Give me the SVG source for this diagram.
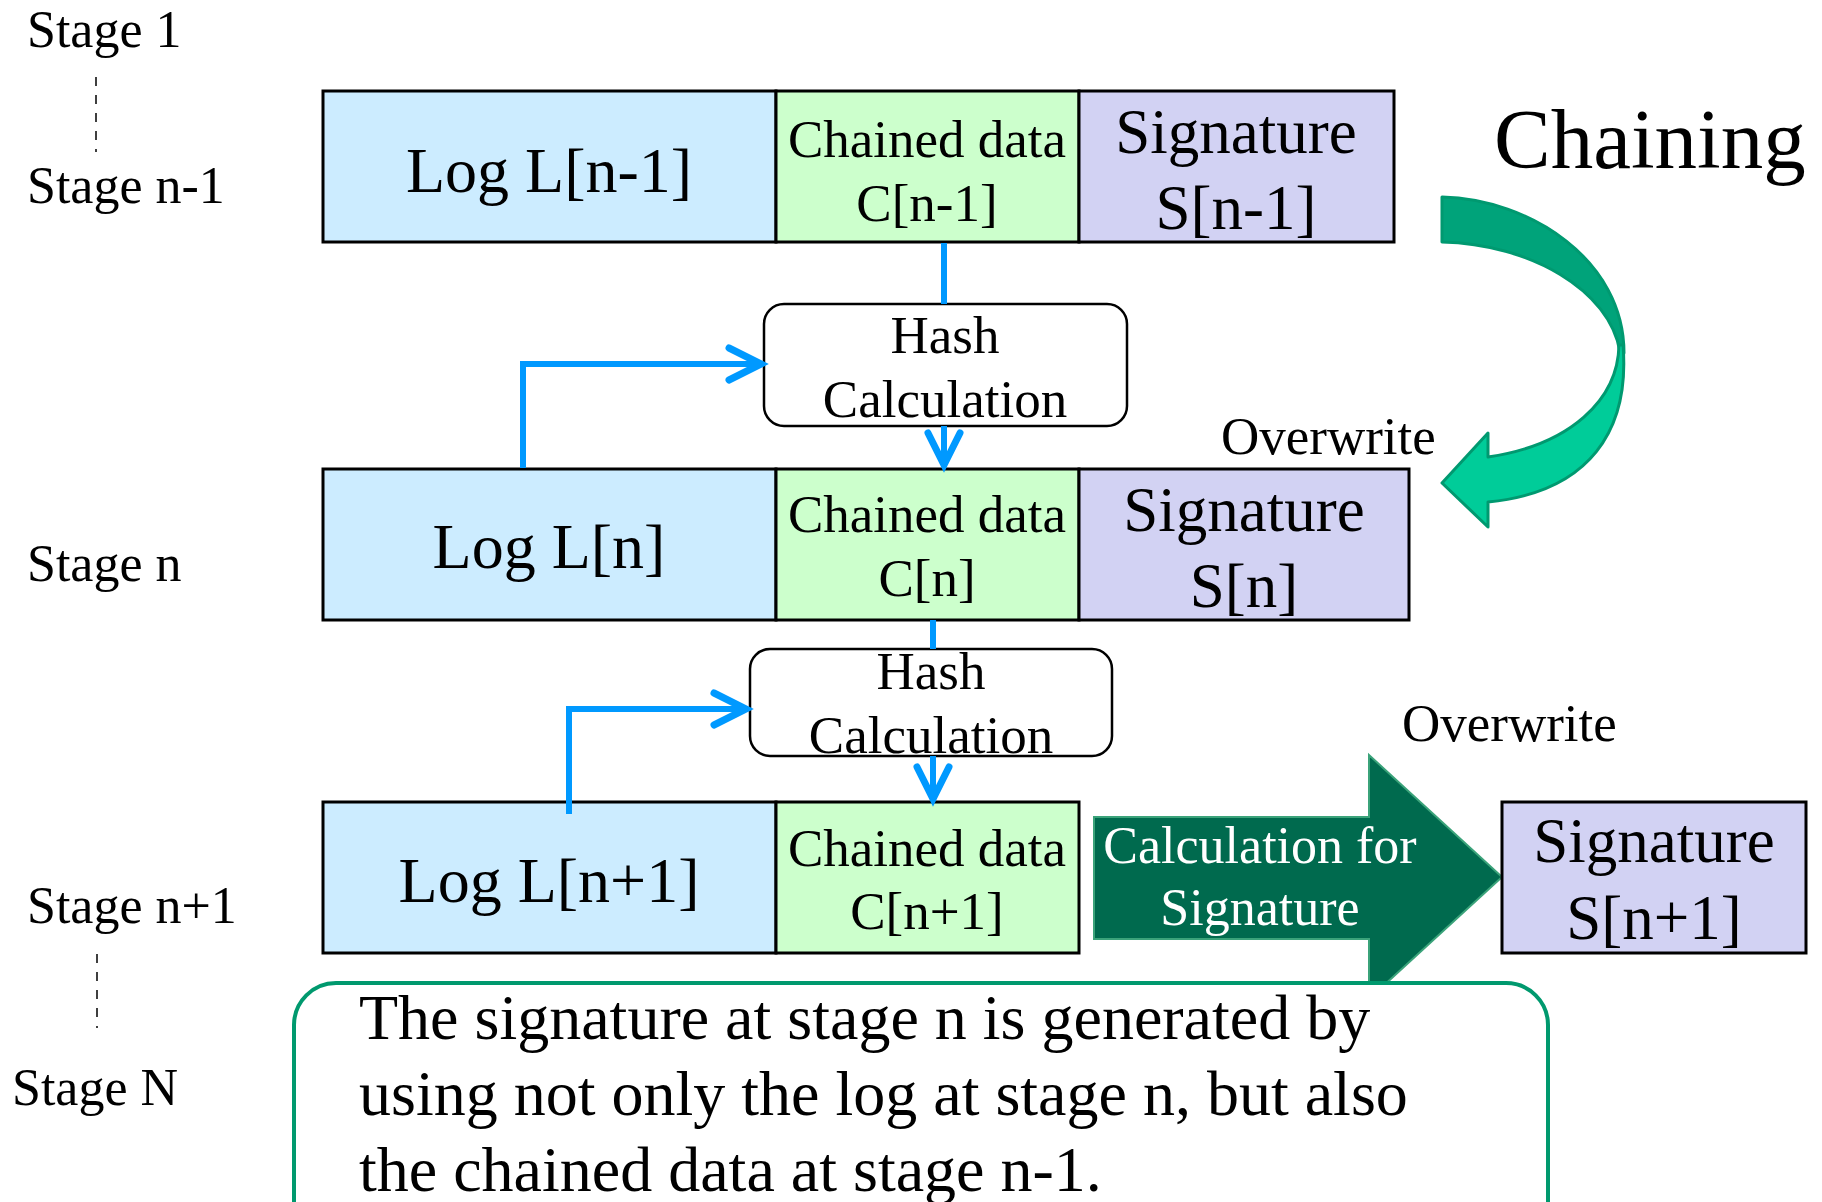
<svg xmlns="http://www.w3.org/2000/svg" width="1822" height="1202" viewBox="0 0 1822 1202">
<style>
text{font-family:"Liberation Serif","Times New Roman",serif;fill:#000}
.st{font-size:52px}
.big{font-size:64px;text-anchor:middle}
.sig{font-size:63px;text-anchor:middle}
.mid{font-size:53px;text-anchor:middle}
.log{fill:#CCECFF;stroke:#000;stroke-width:3}
.chn{fill:#CCFFCC;stroke:#000;stroke-width:3}
.sgb{fill:#D2D2F3;stroke:#000;stroke-width:3}
.hash{fill:#fff;stroke:#000;stroke-width:2.5}
.con{fill:none;stroke:#0099FF;stroke-width:6}
.dash{stroke:#000;stroke-width:1.5;stroke-dasharray:9 9}
.cv{stroke:#009970;stroke-width:3;stroke-linejoin:round}
</style>
<defs>
<marker id="arr" markerUnits="userSpaceOnUse" viewBox="-6 -6 46 46" refX="32" refY="16" markerWidth="46" markerHeight="46" orient="auto">
<path d="M0,0 L32,16 L0,32" fill="none" stroke="#0099FF" stroke-width="7" stroke-linecap="round"/>
</marker>
</defs>
<rect width="1822" height="1202" fill="#fff"/>

<g id="stages">
<text class="st" x="27" y="47">Stage 1</text>
<line class="dash" x1="96" y1="77" x2="96" y2="152"/>
<text class="st" x="27" y="203">Stage n-1</text>
<text class="st" x="27" y="581">Stage n</text>
<text class="st" x="27" y="923">Stage n+1</text>
<line class="dash" x1="97" y1="954" x2="97" y2="1028"/>
<text class="st" x="12" y="1105">Stage N</text>
</g>

<g id="row1">
<rect class="log" x="323" y="91" width="453" height="151"/>
<rect class="chn" x="776" y="91" width="303" height="151"/>
<rect class="sgb" x="1079" y="91" width="315" height="151"/>
<text class="big" x="549" y="192">Log L[n-1]</text>
<text class="mid" x="927" y="157">Chained data</text>
<text class="mid" x="927" y="221">C[n-1]</text>
<text class="sig" x="1236" y="153">Signature</text>
<text class="sig" x="1236" y="229">S[n-1]</text>
</g>

<g id="hash1">
<rect class="hash" x="764" y="304" width="363" height="122" rx="20"/>
<text class="mid" x="945" y="353">Hash</text>
<text class="mid" x="945" y="417">Calculation</text>
</g>

<g id="row2">
<rect class="log" x="323" y="469" width="453" height="151"/>
<rect class="chn" x="776" y="469" width="303" height="151"/>
<rect class="sgb" x="1079" y="469" width="330" height="151"/>
<text class="big" x="549" y="568">Log L[n]</text>
<text class="mid" x="927" y="532">Chained data</text>
<text class="mid" x="927" y="596">C[n]</text>
<text class="sig" x="1244" y="531">Signature</text>
<text class="sig" x="1244" y="607">S[n]</text>
</g>

<g id="hash2">
<rect class="hash" x="750" y="649" width="362" height="107" rx="20"/>
<text class="mid" x="931" y="689">Hash</text>
<text class="mid" x="931" y="753">Calculation</text>
</g>

<g id="row3">
<rect class="log" x="323" y="802" width="453" height="151"/>
<rect class="chn" x="776" y="802" width="303" height="151"/>
<text class="big" x="549" y="902">Log L[n+1]</text>
<text class="mid" x="927" y="866">Chained data</text>
<text class="mid" x="927" y="929">C[n+1]</text>
</g>

<g id="sigcalc">
<path d="M1094,817 L1369,817 L1369,755 L1502,877 L1369,999 L1369,939 L1094,939 Z" fill="#006A4E" stroke="#3BA37A" stroke-width="2"/>
<text x="1260" y="863" style="font-size:52px;text-anchor:middle;fill:#fff">Calculation for</text>
<text x="1260" y="925" style="font-size:52px;text-anchor:middle;fill:#fff">Signature</text>
</g>

<g id="sig-n1">
<rect class="sgb" x="1502" y="802" width="304" height="151"/>
<text class="sig" x="1654" y="862">Signature</text>
<text class="sig" x="1654" y="939">S[n+1]</text>
</g>

<g id="chaining">
<text x="1494" y="168" style="font-size:85px">Chaining</text>
<path class="cv" fill="#00A37A" d="M1442,197 C1530,199 1624,260 1624,353 L1620,352 C1610,290 1530,244 1442,242 Z"/>
<path class="cv" fill="#00CC99" d="M1623,345 C1630,430 1590,492 1488,502 L1488,527 L1442,483 L1488,433 L1488,457 C1570,445 1618,400 1619,345 Z"/>
</g>

<g id="overwrite">
<text x="1221" y="454" style="font-size:53px">Overwrite</text>
<text x="1402" y="741" style="font-size:53px">Overwrite</text>
</g>

<g id="note">
<rect x="294" y="983" width="1254" height="270" rx="42" fill="#fff" stroke="#00996E" stroke-width="4"/>
<text x="359" y="1039" style="font-size:64px">The signature at stage n is generated by</text>
<text x="359" y="1115" style="font-size:64px">using not only the log at stage n, but also</text>
<text x="359" y="1191" style="font-size:64px">the chained data at stage n-1.</text>
</g>

<g id="connectors">
<path class="con" d="M944,243 V304"/>
<path class="con" d="M944,426 V465" marker-end="url(#arr)"/>
<path class="con" d="M523,468 V364 H761" marker-end="url(#arr)"/>
<path class="con" d="M933,620 V649"/>
<path class="con" d="M933,756 V799" marker-end="url(#arr)"/>
<path class="con" d="M569,814 V709 H746" marker-end="url(#arr)"/>
</g>
</svg>
